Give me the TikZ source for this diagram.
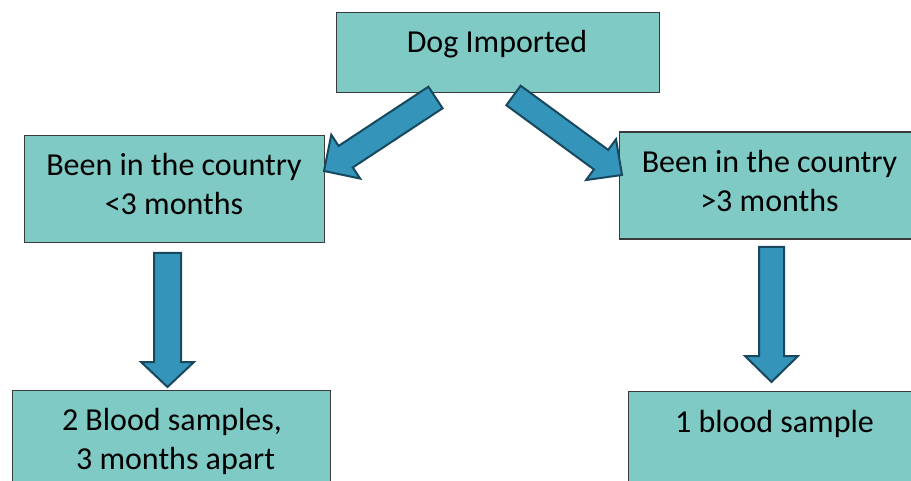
\documentclass[tikz,border=0pt]{standalone}
\usepackage{fontspec}
\setmainfont{Carlito}
\usetikzlibrary{calc}
\definecolor{boxfill}{RGB}{127,202,196}
\definecolor{boxline}{RGB}{58,58,58}
\definecolor{arrfill}{RGB}{52,148,186}
\definecolor{arrline}{RGB}{24,72,94}
\tikzset{
  box/.style={draw=boxline, fill=boxfill, line width=1.3pt, rectangle, inner sep=0pt},
  lbl/.style={font=\fontsize{32}{39}\selectfont, align=center, anchor=base, inner sep=0pt, text=black},
  barrow/.style={draw=arrline, fill=arrfill, line width=2pt, line join=miter}
}
\newcommand\blockarr[5]{%
  \coordinate (ba-s) at (#1); \coordinate (ba-e) at (#2);
  \coordinate (ba-j) at ($(ba-e)!#5!(ba-s)$);
  \draw[barrow] ($(ba-s)!#3!90:(ba-e)$) -- ($(ba-j)!#3!-90:(ba-s)$) -- ($(ba-j)!#4!-90:(ba-s)$) -- (ba-e) -- ($(ba-j)!#4!90:(ba-s)$) -- ($(ba-j)!#3!90:(ba-s)$) -- ($(ba-s)!#3!-90:(ba-e)$) -- cycle;}
\begin{document}
\begin{tikzpicture}[x=1pt,y=-1pt]
\useasboundingbox (0,0) rectangle (911,481);
\clip (0,0) rectangle (911,481);
% boxes
\node[box, minimum width=323pt, minimum height=80pt, anchor=north west] (top) at (336,12) {};
\node[box, minimum width=300pt, minimum height=107pt, anchor=north west] (lmid) at (24,135) {};
\node[box, minimum width=302pt, minimum height=107pt, anchor=north west] (rmid) at (618.5,131.5) {};
\node[box, minimum width=318pt, minimum height=110pt, anchor=north west] (lbot) at (12,390) {};
\node[box, minimum width=294pt, minimum height=110pt, anchor=north west] (rbot) at (627.5,391) {};
% labels (base anchor = baseline of last line)
\node[lbl] (ttop) at (497,53) {Dog Imported};
\node[lbl] (tlmid) at (174,215) {Been in the country\\<3 months};
\node[lbl] (trmid) at (769.5,212) {Been in the country\\>3 months};
\node[lbl] (tlbot) at (172,469.5) {2 Blood samples,\\\ 3 months apart};
\node[lbl] (trbot) at (774.5,432) {1 blood sample};
% arrow ends
\coordinate (a1s) at (435.5,97.5); \coordinate (a1e) at (324,171);
\coordinate (a2s) at (513.5,95.5); \coordinate (a2e) at (622,175);
\coordinate (a3s) at (167.5,253); \coordinate (a3e) at (167.5,387);
\coordinate (a4s) at (771.5,247); \coordinate (a4e) at (771.5,382);
\blockarr{a1s}{a1e}{12.9pt}{26.2pt}{26pt}
\blockarr{a2s}{a2e}{12.1pt}{25.3pt}{26pt}
\blockarr{a3s}{a3e}{13.5pt}{26.5pt}{25pt}
\blockarr{a4s}{a4e}{12.5pt}{26.5pt}{26pt}
\end{tikzpicture}
\end{document}
